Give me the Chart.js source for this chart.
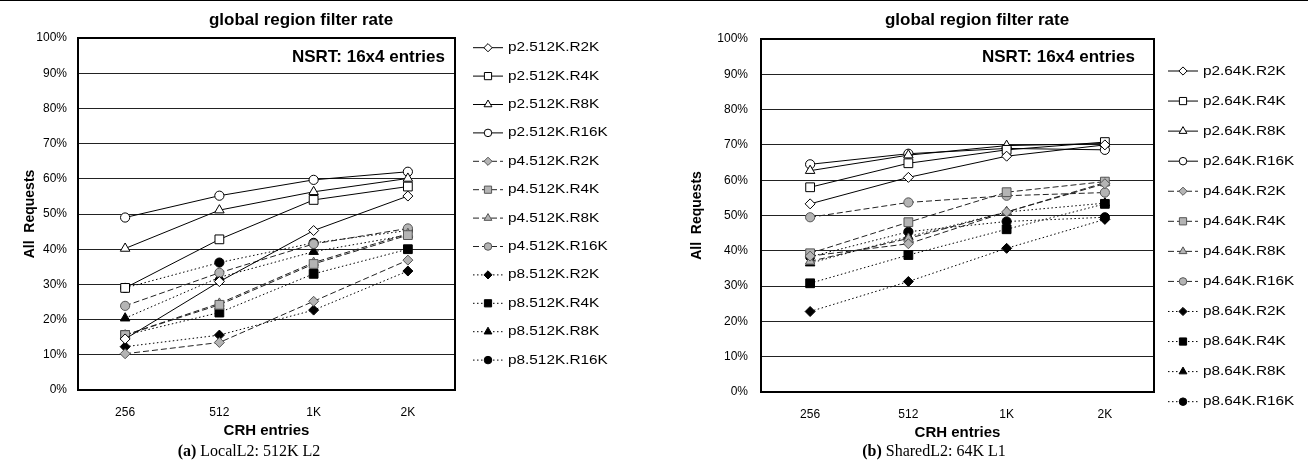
<!DOCTYPE html>
<html><head><meta charset="utf-8">
<script src="https://cdn.jsdelivr.net/npm/chart.js@4/dist/chart.umd.min.js"></script>
<style>
html,body{margin:0;padding:0;background:#fff;}
#wrap{position:relative;width:1308px;height:473px;overflow:hidden;background:#fff;}
canvas{position:absolute;top:0;}
#c1{left:0px}
#c2{left:654px}
.cap{position:absolute;top:442px;font-family:"Liberation Serif","Times New Roman",serif;font-size:16px;white-space:nowrap;transform:translateX(-50%);color:#000;}
#topline{position:absolute;left:0;top:0;width:1308px;height:1px;background:#000;}
</style></head><body>
<div id="wrap">
<div id="topline"></div>
<canvas id="c1" width="620" height="473"></canvas>
<canvas id="c2" width="654" height="473"></canvas>
<div class="cap" style="left:249px"><b>(a)</b> LocalL2: 512K L2</div>
<div class="cap" style="left:934px"><b>(b)</b> SharedL2: 64K L1</div>
</div>
<script>
// ---- data ----
const categories = ['256', '512', '1K', '2K'];
const yTickValues = [0, 10, 20, 30, 40, 50, 60, 70, 80, 90, 100];

const namesA = ['p2.512K.R2K','p2.512K.R4K','p2.512K.R8K','p2.512K.R16K',
                'p4.512K.R2K','p4.512K.R4K','p4.512K.R8K','p4.512K.R16K',
                'p8.512K.R2K','p8.512K.R4K','p8.512K.R8K','p8.512K.R16K'];
const namesB = ['p2.64K.R2K','p2.64K.R4K','p2.64K.R8K','p2.64K.R16K',
                'p4.64K.R2K','p4.64K.R4K','p4.64K.R8K','p4.64K.R16K',
                'p8.64K.R2K','p8.64K.R4K','p8.64K.R8K','p8.64K.R16K'];

// (a) LocalL2: 512K L2
const a_p2_R2K  = [14.5, 30.8, 45.3, 55.1];
const a_p2_R4K  = [29.0, 42.8, 54.0, 57.8];
const a_p2_R8K  = [40.2, 51.1, 56.3, 60.1];
const a_p2_R16K = [49.0, 55.2, 59.7, 62.0];
const a_p4_R2K  = [10.3, 13.5, 25.2, 36.9];
const a_p4_R4K  = [15.6, 24.2, 35.8, 44.0];
const a_p4_R8K  = [15.6, 24.6, 36.2, 44.4];
const a_p4_R16K = [23.9, 33.3, 41.5, 45.9];
const a_p8_R2K  = [12.3, 15.6, 22.7, 33.8];
const a_p8_R4K  = [15.6, 22.0, 33.0, 40.0];
const a_p8_R8K  = [20.4, 32.0, 39.3, 44.0];
const a_p8_R16K = [29.0, 36.2, 41.8, 45.3];

// (b) SharedL2: 64K L1
const b_p2_R2K  = [53.3, 60.8, 66.8, 70.0];
const b_p2_R4K  = [58.0, 64.8, 68.6, 70.8];
const b_p2_R8K  = [62.7, 67.1, 69.8, 70.4];
const b_p2_R16K = [64.5, 67.5, 69.0, 68.6];
const b_p4_R2K  = [38.5, 42.0, 51.0, 59.0];
const b_p4_R4K  = [39.3, 48.1, 56.6, 59.6];
const b_p4_R8K  = [37.0, 43.5, 51.0, 59.3];
const b_p4_R16K = [49.5, 53.7, 55.6, 56.5];
const b_p8_R2K  = [22.8, 31.3, 40.7, 48.9];
const b_p8_R4K  = [30.8, 38.8, 46.1, 53.3];
const b_p8_R8K  = [36.5, 44.0, 51.0, 53.5];
const b_p8_R16K = [38.3, 45.4, 48.3, 49.5];

const seriesA = [a_p2_R2K, a_p2_R4K, a_p2_R8K, a_p2_R16K, a_p4_R2K, a_p4_R4K, a_p4_R8K, a_p4_R16K, a_p8_R2K, a_p8_R4K, a_p8_R8K, a_p8_R16K];
const seriesB = [b_p2_R2K, b_p2_R4K, b_p2_R8K, b_p2_R16K, b_p4_R2K, b_p4_R4K, b_p4_R8K, b_p4_R16K, b_p8_R2K, b_p8_R4K, b_p8_R8K, b_p8_R16K];

// ---- styles ----
const FONT = '"Liberation Sans", Arial, Helvetica, sans-serif';
Chart.defaults.font.family = FONT;
Chart.defaults.color = '#000';

const shapes = ['rectRot', 'rect', 'triangle', 'circle'];
const radii = { rectRot: 5, rect: 6.2, triangle: 5.5, circle: 4.6 };
const groups = [
  { dash: [],          line: '#000', fill: '#ffffff', border: '#000' },
  { dash: [6, 3],      line: '#222', fill: '#b4b4b4', border: '#555' },
  { dash: [1.5, 2.5],  line: '#000', fill: '#000000', border: '#000' }
];

function makeDatasets(names, series) {
  return names.map((name, i) => {
    const g = groups[Math.floor(i / 4)];
    const shape = shapes[i % 4];
    return {
      label: name,
      data: series[i],
      borderColor: g.line,
      borderWidth: 1,
      borderDash: g.dash,
      pointStyle: shape,
      pointRadius: radii[shape],
      pointHoverRadius: radii[shape],
      pointBackgroundColor: g.fill,
      pointBorderColor: g.border,
      pointBorderWidth: 1,
      fill: false,
      tension: 0
    };
  });
}

const extras = {
  id: 'extras',
  afterDraw(chart, args, o) {
    const ctx = chart.ctx, ca = chart.chartArea;
    ctx.save();
    // plot box
    ctx.strokeStyle = '#000';
    ctx.lineWidth = 2;
    ctx.setLineDash([]);
    ctx.strokeRect(ca.left, ca.top, ca.right - ca.left, ca.bottom - ca.top);
    // title
    ctx.fillStyle = '#000';
    ctx.font = 'bold 17px ' + FONT;
    ctx.textAlign = 'center';
    ctx.textBaseline = 'alphabetic';
    ctx.fillText(o.title, o.titleX, o.titleY);
    // note
    ctx.font = 'bold 17px ' + FONT;
    ctx.textAlign = 'right';
    ctx.textBaseline = 'middle';
    ctx.fillText(o.note, o.noteX, o.noteY);
    // legend
    chart.data.datasets.forEach((ds, i) => {
      const y = o.legY + i * o.legStep;
      ctx.strokeStyle = ds.borderColor;
      ctx.lineWidth = 1;
      ctx.setLineDash(ds.borderDash || []);
      ctx.beginPath();
      ctx.moveTo(o.legX0, y);
      ctx.lineTo(o.legX1, y);
      ctx.stroke();
      ctx.setLineDash([]);
      ctx.fillStyle = ds.pointBackgroundColor;
      ctx.strokeStyle = ds.pointBorderColor;
      ctx.lineWidth = 1;
      Chart.helpers.drawPoint(ctx, { pointStyle: ds.pointStyle, radius: ds.pointRadius * 0.82, rotation: 0, borderWidth: 1 }, (o.legX0 + o.legX1) / 2, y);
      ctx.save();
      ctx.translate(o.legTextX, y);
      ctx.scale(1.18, 1);
      ctx.fillStyle = '#000';
      ctx.font = '13px ' + FONT;
      ctx.textAlign = 'left';
      ctx.textBaseline = 'middle';
      ctx.fillText(ds.label, 0, 0);
      ctx.restore();
    });
    ctx.restore();
  }
};

function makeChart(id, names, series, cfg) {
  return new Chart(document.getElementById(id), {
    type: 'line',
    data: { labels: categories, datasets: makeDatasets(names, series) },
    plugins: [extras],
    options: {
      responsive: false,
      animation: false,
      devicePixelRatio: 1,
      layout: { padding: cfg.padding },
      plugins: {
        legend: { display: false },
        tooltip: { enabled: false },
        title: { display: false },
        extras: cfg.extras
      },
      scales: {
        x: {
          type: 'category',
          offset: true,
          grid: { display: false, drawTicks: false },
          border: { display: false },
          ticks: { font: { size: 12 }, padding: 15, color: '#000' },
          title: { display: true, text: 'CRH entries', font: { size: 15, weight: 'bold' }, padding: { top: cfg.xTitlePad, bottom: 0 }, color: '#000' },
          afterFit: s => { s.height = 50; }
        },
        y: {
          min: 0, max: 100,
          afterBuildTicks: s => { s.ticks = yTickValues.map(v => ({ value: v })); },
          grid: { color: '#222', lineWidth: 1, drawTicks: false },
          border: { display: false },
          ticks: { font: { size: 12 }, padding: cfg.yTickPad, color: '#000', callback: v => v + '%' },
          title: { display: true, text: 'All  Requests', font: { size: 14, weight: 'bold' }, padding: { top: cfg.yTitlePad, bottom: 0 }, color: '#000' },
          afterFit: s => { s.width = cfg.yWidth; }
        }
      }
    }
  });
}

makeChart('c1', namesA, seriesA, {
  padding: { left: 0, top: 38, right: 165, bottom: 33 },
  yWidth: 78, yTickPad: 11, yTitlePad: 21.6, xTitlePad: 4.6,
  extras: { title: 'global region filter rate', titleX: 301, titleY: 25,
            note: 'NSRT: 16x4 entries', noteX: 445, noteY: 57,
            legX0: 473, legX1: 503, legTextX: 508, legY: 47.7, legStep: 28.4 }
});

makeChart('c2', namesB, seriesB, {
  padding: { left: 0, top: 39, right: 154, bottom: 31 },
  yWidth: 107, yTickPad: 13, yTitlePad: 34.6, xTitlePad: 6.6,
  extras: { title: 'global region filter rate', titleX: 323, titleY: 25,
            note: 'NSRT: 16x4 entries', noteX: 481, noteY: 57,
            legX0: 514, legX1: 544, legTextX: 549, legY: 71, legStep: 30.06 }
});
</script>
</body></html>
